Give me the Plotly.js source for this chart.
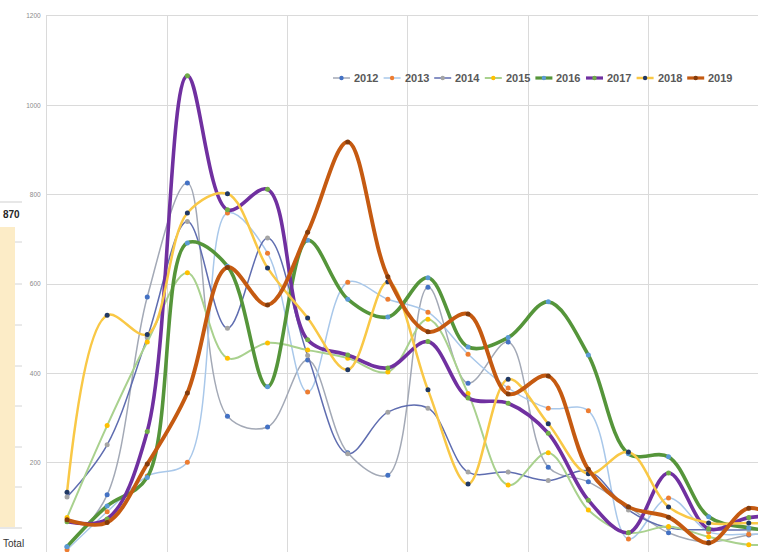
<!DOCTYPE html>
<html>
<head>
<meta charset="utf-8">
<script src="https://cdn.plot.ly/plotly-3.0.1.min.js"></script>
<style>
  html, body { margin: 0; padding: 0; background: #ffffff; overflow: hidden; }
  #chart { width: 758px; height: 552px; }
</style>
</head>
<body>
<div id="chart"></div>
<script>
// Periods along the horizontal axis (no labels are shown for them)
const periods = [1, 2, 3, 4, 5, 6, 7, 8, 9, 10, 11, 12, 13, 14, 15, 16, 17, 18, 19];

const years = ['2012', '2013', '2014', '2015', '2016', '2017', '2018', '2019'];

// Values per year, one entry per period
const v2012 = [12, 128, 571, 826, 304, 280, 430, 222, 172, 593, 378, 470, 190, 157, 101, 43, 22, 38, 45];
const v2013 = [5, 90, 170, 201, 759, 669, 358, 604, 566, 537, 443, 367, 322, 316, 29, 121, 45, 40, 40];
const v2014 = [123, 240, 480, 740, 501, 703, 440, 220, 313, 322, 179, 179, 160, 181, 94, 54, 50, 50, 55];
const v2015 = [77, 283, 470, 625, 434, 468, 452, 434, 403, 521, 355, 150, 222, 94, 43, 57, 34, 16, 20];
const v2016 = [12, 103, 167, 692, 640, 370, 698, 566, 526, 614, 459, 480, 560, 441, 220, 213, 79, 54, 45];
const v2017 = [68, 74, 270, 1066, 766, 812, 475, 441, 412, 471, 345, 333, 266, 116, 43, 177, 52, 77, 80];
const v2018 = [134, 530, 487, 759, 802, 636, 524, 408, 605, 363, 152, 387, 287, 175, 224, 101, 65, 65, 60];
const v2019 = [72, 66, 197, 356, 637, 553, 716, 918, 616, 493, 533, 354, 394, 185, 101, 78, 20, 98, 60];

const seriesValues = [v2012, v2013, v2014, v2015, v2016, v2017, v2018, v2019];

// Line / marker styling per year
const styles = [
  { line: '#a3a9b6', width: 1.5, marker: '#4472c4' },
  { line: '#a9c8ea', width: 1.5, marker: '#ed7d31' },
  { line: '#5f6db0', width: 1.5, marker: '#a5a5a5' },
  { line: '#a9d18e', width: 2.0, marker: '#ffc000' },
  { line: '#55953a', width: 3.6, marker: '#5b9bd5' },
  { line: '#7030a0', width: 3.6, marker: '#70ad47' },
  { line: '#f9c846', width: 2.5, marker: '#203864' },
  { line: '#c55a11', width: 3.9, marker: '#843c0c' }
];

const traces = years.map((yr, k) => ({
  type: 'scatter',
  mode: 'lines+markers',
  name: yr,
  x: periods,
  y: seriesValues[k],
  line: { color: styles[k].line, width: styles[k].width, shape: 'spline', smoothing: 1 },
  marker: { color: styles[k].marker, size: 5, line: { width: 0 } },
  showlegend: false,
  hoverinfo: 'x+y+name'
}));

// Plot geometry (pixels) used to place the hand-built legend and side decorations
const FIG_W = 758, FIG_H = 552;
const M = { l: 47, r: 0, t: 16, b: 0 };
const PW = FIG_W - M.l - M.r, PH = FIG_H - M.t - M.b;
const px2x = p => (p - M.l) / PW;
const px2y = p => 1 - (p - M.t) / PH;
const catPx = 40.1;                       // pixels per period
const xStart = periods[0] - 0.5;
const xEnd = xStart + PW / catPx;

const shapes = [];
const annotations = [];

// Horizontal legend across the upper part of the plot
const legX0 = 333, legStep = 50.6, legY = 78, legLine = 17;
years.forEach((yr, k) => {
  const x0 = legX0 + k * legStep;
  shapes.push({
    type: 'line', xref: 'paper', yref: 'paper',
    x0: px2x(x0), x1: px2x(x0 + legLine), y0: px2y(legY), y1: px2y(legY),
    line: { color: styles[k].line, width: Math.min(styles[k].width, 3.2) }
  });
  const cx = x0 + legLine / 2, r = 2.2;
  shapes.push({
    type: 'circle', xref: 'paper', yref: 'paper',
    x0: px2x(cx - r), x1: px2x(cx + r), y0: px2y(legY + r), y1: px2y(legY - r),
    fillcolor: styles[k].marker, line: { width: 0 }
  });
  annotations.push({
    xref: 'paper', yref: 'paper', x: px2x(x0 + legLine + 2), y: px2y(legY),
    xanchor: 'left', yanchor: 'middle', showarrow: false,
    text: '<b>' + yr + '</b>',
    font: { family: 'Liberation Sans, Arial, sans-serif', size: 11, color: '#595959' }
  });
});

// Neighbouring summary panel at the far left
shapes.push({
  type: 'rect', xref: 'paper', yref: 'paper', layer: 'below',
  x0: px2x(0), x1: px2x(15), y0: px2y(527), y1: px2y(227),
  fillcolor: '#fcecc7', line: { width: 0 }
});
[202, 528].forEach(py => shapes.push({
  type: 'line', xref: 'paper', yref: 'paper',
  x0: px2x(0), x1: px2x(22), y0: px2y(py), y1: px2y(py),
  line: { color: '#cfcfcf', width: 1 }
}));
[242, 284, 325, 366, 406, 447, 487].forEach(py => shapes.push({
  type: 'line', xref: 'paper', yref: 'paper',
  x0: px2x(15), x1: px2x(22), y0: px2y(py), y1: px2y(py),
  line: { color: '#d4d4d4', width: 1 }
}));
annotations.push({
  xref: 'paper', yref: 'paper', x: px2x(1), y: px2y(214),
  xanchor: 'left', yanchor: 'middle', showarrow: false,
  text: '<b>870</b>',
  font: { family: 'Liberation Sans, Arial, sans-serif', size: 10, color: '#262626' }
});
annotations.push({
  xref: 'paper', yref: 'paper', x: px2x(1), y: px2y(543),
  xanchor: 'left', yanchor: 'middle', showarrow: false,
  text: 'Total',
  font: { family: 'Liberation Sans, Arial, sans-serif', size: 10, color: '#333333' }
});

const layout = {
  width: FIG_W,
  height: FIG_H,
  margin: M,
  paper_bgcolor: '#ffffff',
  plot_bgcolor: '#ffffff',
  showlegend: false,
  xaxis: {
    type: 'linear',
    range: [xStart, xEnd],
    tick0: xStart,
    dtick: 3,
    showticklabels: false,
    ticks: '',
    showgrid: true,
    gridcolor: '#dadada',
    gridwidth: 1,
    zeroline: false,
    showline: true,
    mirror: true,
    linecolor: '#dadada',
    linewidth: 1,
    fixedrange: true
  },
  yaxis: {
    range: [0, 1200],
    tick0: 0,
    dtick: 200,
    ticks: '',
    showgrid: true,
    gridcolor: '#dadada',
    gridwidth: 1,
    zeroline: false,
    showline: true,
    linecolor: '#dadada',
    linewidth: 1,
    ticklabelstandoff: 4,
    tickfont: { family: 'Liberation Sans, Arial, sans-serif', size: 6.5, color: '#8a8a8a' },
    automargin: false,
    fixedrange: true
  },
  shapes: shapes,
  annotations: annotations
};

Plotly.newPlot('chart', traces, layout, { displayModeBar: false, staticPlot: true });
</script>
</body>
</html>
